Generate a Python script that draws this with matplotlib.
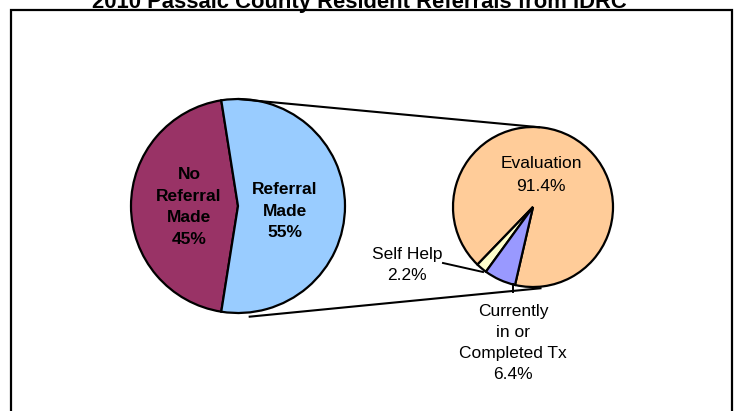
import numpy as np
import matplotlib
matplotlib.use("Agg")
import matplotlib.pyplot as plt
from matplotlib.patches import Rectangle

plt.rcParams["font.family"] = ["Liberation Sans", "DejaVu Sans"]

# ── data ──────────────────────────────────────────────────────────────────────
title = "2010 Passaic County Resident Referrals from IDRC"

main_labels = ["No\nReferral\nMade", "Referral\nMade"]
main_values = [45, 55]
main_colors = ["#993366", "#99CCFF"]

sub_labels = ["Evaluation", "Self Help", "Currently\nin or\nCompleted Tx"]
sub_values = [91.4, 2.2, 6.4]
sub_colors = ["#FFCC99", "#FFFFCC", "#9999FF"]

W, H = 737, 411
def Y(y_img):
    return H - y_img

fig = plt.figure(figsize=(W / 100, H / 100), dpi=100)
ax = fig.add_axes([0, 0, 1, 1])

# chart border
ax.add_patch(Rectangle((11, Y(430)), 721, 420, fill=False, ec="black", lw=1.6))

# title, clipped at top as in source
ax.text(359, Y(7.5), title, ha="center", va="baseline", fontsize=15.8,
        fontweight="bold", clip_on=False)

edge = dict(edgecolor="black", linewidth=1.6)

# main pie
c1, r1 = (238, Y(206)), 107
ax.pie(main_values, colors=main_colors, center=c1, radius=r1,
       startangle=99, counterclock=True, wedgeprops=edge, frame=True)

# sub pie
c2, r2 = (533, Y(207)), 80
ax.pie(sub_values, colors=sub_colors, center=c2, radius=r2,
       startangle=257, counterclock=True, wedgeprops=edge, frame=True)
ax.set_xlim(0, W)
ax.set_ylim(0, H)
ax.set_aspect("equal")
ax.axis("off")


def on_circle(c, r, ang):
    a = np.deg2rad(ang)
    return c[0] + r * np.cos(a), c[1] + r * np.sin(a)

# connector lines between the two pies
for a1, k1, a2, k2 in [(90, 1.0, 85, 1.0), (-84.5, 1.04, -84, 1.02)]:
    x1, y1 = on_circle(c1, r1 * k1, a1)
    x2, y2 = on_circle(c2, r2 * k2, a2)
    ax.plot([x1, x2], [y1, y2], color="black", lw=1.5, solid_capstyle="butt")

# main pie labels
ax.text(189, Y(207), f"{main_labels[0]}\n{main_values[0]}%", ha="center",
        va="center", fontsize=12.5, fontweight="bold", linespacing=1.55)
ax.text(285, Y(211), f"{main_labels[1]}\n{main_values[1]}%", ha="center",
        va="center", fontsize=12.5, fontweight="bold", linespacing=1.55)

# sub pie labels
ax.text(541, Y(175), f"{sub_labels[0]}\n{sub_values[0]}%", ha="center",
        va="center", fontsize=12.5, linespacing=1.6)

ax.text(407, Y(265), f"{sub_labels[1]}\n{sub_values[1]}%", ha="center",
        va="center", fontsize=12.5, linespacing=1.5)
ax.plot([443, 483], [Y(263), Y(272)], color="black", lw=1.4)

ax.text(513, Y(343), f"{sub_labels[2]}\n{sub_values[2]}%", ha="center",
        va="center", fontsize=12.5, linespacing=1.5)
ax.plot([513, 513], [Y(284), Y(292)], color="black", lw=1.4)

fig.savefig("out.png", dpi=100)
